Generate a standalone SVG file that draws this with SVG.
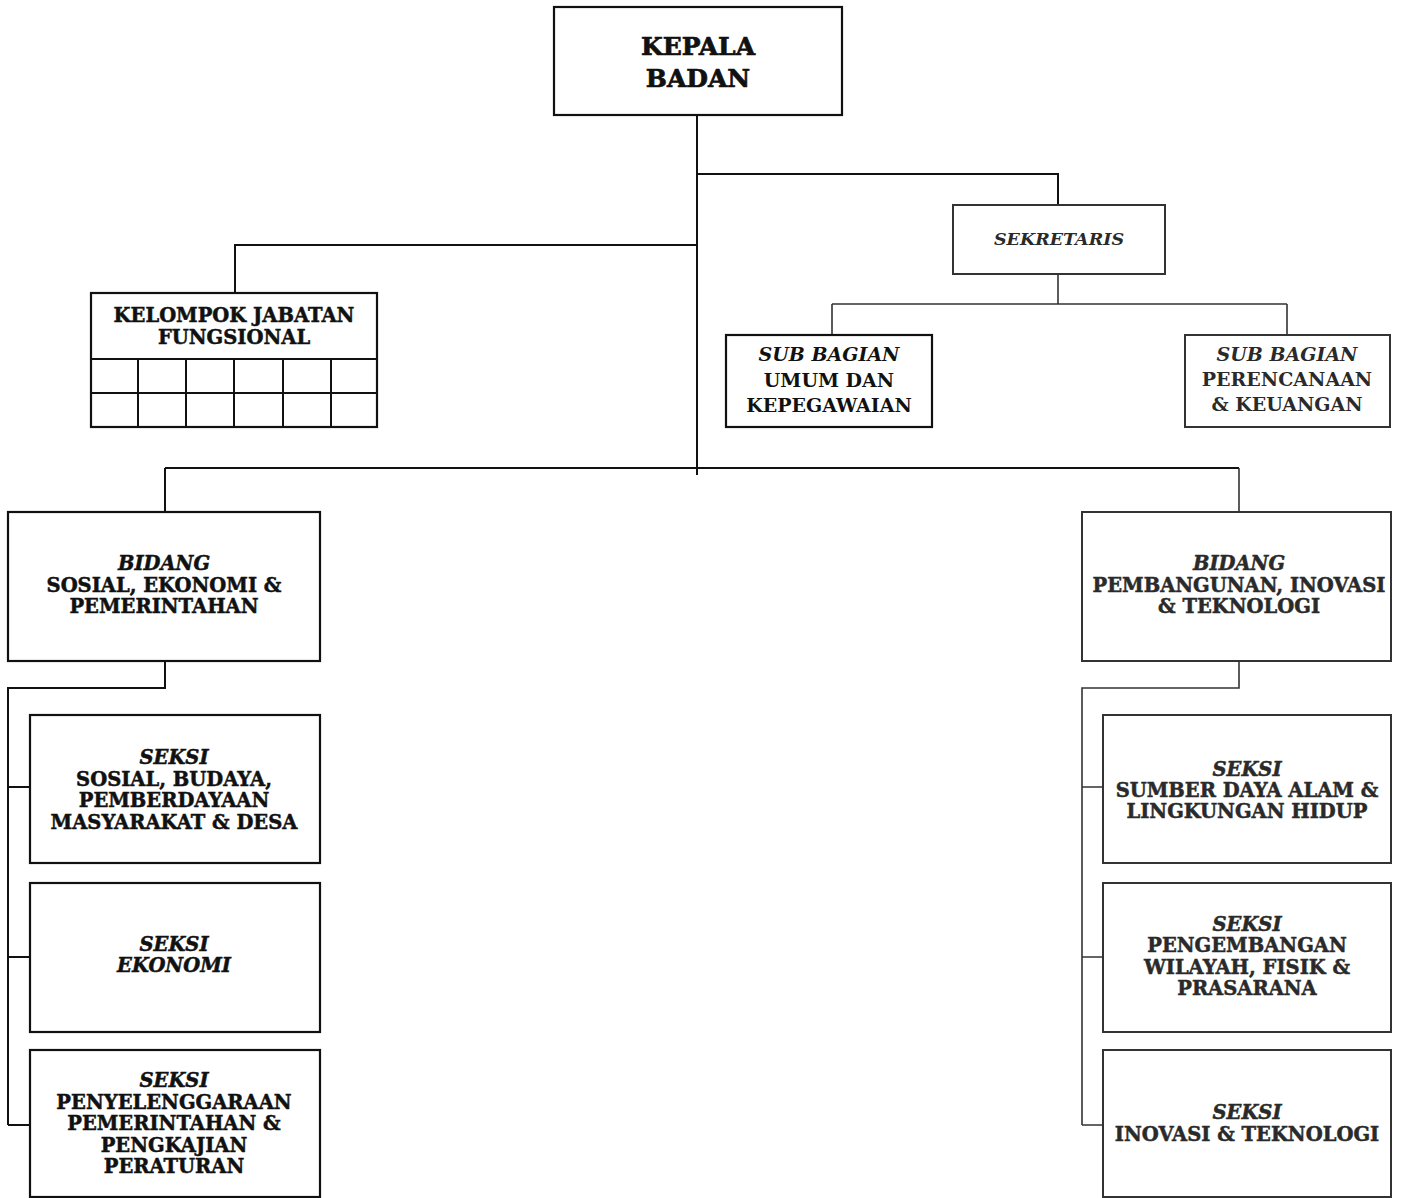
<svg xmlns="http://www.w3.org/2000/svg" width="1402" height="1198" viewBox="0 0 1402 1198">
<style>
.box{fill:#fff;stroke:#111;stroke-width:2.2}
.rbox{fill:#fff;stroke:#333;stroke-width:2}
.ln{fill:none;stroke:#111;stroke-width:2}
.rln{fill:none;stroke:#333;stroke-width:1.6}
text{font-family:"DejaVu Serif","Liberation Serif",serif;font-weight:bold;font-size:19.5px;text-anchor:middle;fill:#111;stroke:#111;stroke-width:0.5}
.big{font-size:25px;stroke-width:0.7}
.it{font-style:italic}
.r{fill:#2a2a2a;stroke:#2a2a2a}
.med{font-size:19px;stroke-width:0}
</style>
<rect width="1402" height="1198" fill="#fff"/>
<g id="connectors">
<path class="ln" d="M697 115V475"/>
<path class="ln" d="M697 174H1058V205"/>
<path class="ln" d="M697 245H235V293"/>
<path class="rln" d="M1058 274V304M832 304H1287M832 304V335M1287 304V335"/>
<path class="ln" d="M165 468H1239M165 468V512"/>
<path class="rln" d="M1239 468V512"/>
<path class="ln" d="M165 661V688H8V1125M8 787H30M8 957H30M8 1125H30"/>
<path class="rln" d="M1239 661V688H1082V1125M1082 787H1103M1082 957H1103M1082 1125H1103"/>
</g>
<g id="kepala">
<rect class="box" x="554" y="7" width="288" height="108"/>
<text class="big" x="698" y="55">KEPALA</text>
<text class="big" x="698" y="87">BADAN</text>
</g>
<g id="sekretaris">
<rect class="rbox" x="953" y="205" width="212" height="69"/>
<text class="it r med" x="1059" y="245" style="font-size:17.5px">SEKRETARIS</text>
</g>
<g id="kelompok">
<rect class="box" x="91" y="293" width="286" height="134"/>
<path class="ln" d="M91 359H377M91 393H377M138 359V427M186 359V427M234 359V427M283 359V427M331 359V427"/>
<text x="234" y="322">KELOMPOK JABATAN</text>
<text x="234" y="344">FUNGSIONAL</text>
</g>
<g id="subbag-umum">
<rect class="box" x="726" y="335" width="206" height="92"/>
<text class="it med" x="829" y="361">SUB BAGIAN</text>
<text class="med" x="829" y="387">UMUM DAN</text>
<text class="med" x="829" y="412">KEPEGAWAIAN</text>
</g>
<g id="subbag-perencanaan">
<rect class="rbox" x="1185" y="335" width="205" height="92"/>
<text class="it r med" x="1287" y="361">SUB BAGIAN</text>
<text class="r med" x="1287" y="386">PERENCANAAN</text>
<text class="r med" x="1287" y="411">&amp; KEUANGAN</text>
</g>
<g id="bidang-sosial">
<rect class="box" x="8" y="512" width="312" height="149"/>
<text class="it" x="164" y="570">BIDANG</text>
<text x="164" y="592">SOSIAL, EKONOMI &amp;</text>
<text x="164" y="613">PEMERINTAHAN</text>
</g>
<g id="bidang-pembangunan">
<rect class="rbox" x="1082" y="512" width="309" height="149"/>
<text class="it r" x="1239" y="570">BIDANG</text>
<text class="r" x="1239" y="592">PEMBANGUNAN, INOVASI</text>
<text class="r" x="1239" y="613">&amp; TEKNOLOGI</text>
</g>
<g id="seksi-sosial">
<rect class="box" x="30" y="715" width="290" height="148"/>
<text class="it" x="174" y="764">SEKSI</text>
<text x="174" y="786">SOSIAL, BUDAYA,</text>
<text x="174" y="807">PEMBERDAYAAN</text>
<text x="174" y="829">MASYARAKAT &amp; DESA</text>
</g>
<g id="seksi-ekonomi">
<rect class="box" x="30" y="883" width="290" height="149"/>
<text class="it" x="174" y="951">SEKSI</text>
<text class="it" x="174" y="972">EKONOMI</text>
</g>
<g id="seksi-penyelenggaraan">
<rect class="box" x="30" y="1050" width="290" height="147"/>
<text class="it" x="174" y="1087">SEKSI</text>
<text x="174" y="1109">PENYELENGGARAAN</text>
<text x="174" y="1130">PEMERINTAHAN &amp;</text>
<text x="174" y="1152">PENGKAJIAN</text>
<text x="174" y="1173">PERATURAN</text>
</g>
<g id="seksi-sda">
<rect class="rbox" x="1103" y="715" width="288" height="148"/>
<text class="it r" x="1247" y="776">SEKSI</text>
<text class="r" x="1247" y="797">SUMBER DAYA ALAM &amp;</text>
<text class="r" x="1247" y="818">LINGKUNGAN HIDUP</text>
</g>
<g id="seksi-wilayah">
<rect class="rbox" x="1103" y="883" width="288" height="149"/>
<text class="it r" x="1247" y="931">SEKSI</text>
<text class="r" x="1247" y="952">PENGEMBANGAN</text>
<text class="r" x="1247" y="974">WILAYAH, FISIK &amp;</text>
<text class="r" x="1247" y="995">PRASARANA</text>
</g>
<g id="seksi-inovasi">
<rect class="rbox" x="1103" y="1050" width="288" height="147"/>
<text class="it r" x="1247" y="1119">SEKSI</text>
<text class="r" x="1247" y="1141">INOVASI &amp; TEKNOLOGI</text>
</g>
</svg>
